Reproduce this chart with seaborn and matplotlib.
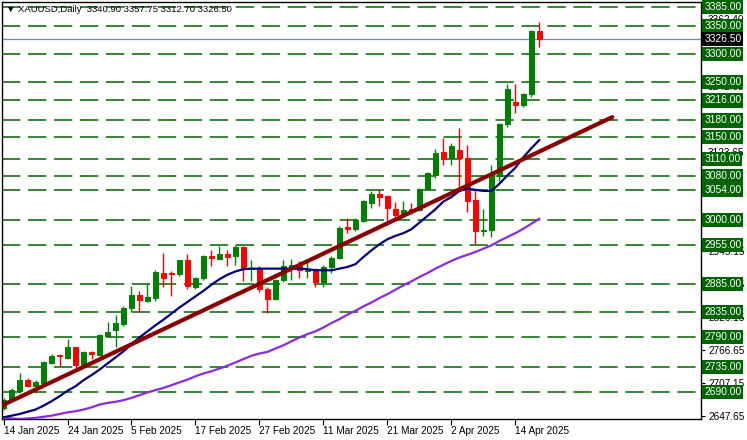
import numpy as np
import pandas as pd
import matplotlib
matplotlib.use("Agg")
import matplotlib.pyplot as plt
import matplotlib.transforms as mtransforms
import seaborn as sns

# ---------------- data ----------------
dates = pd.bdate_range("2025-01-14", "2025-04-17")

opens = [2661, 2677, 2692, 2713, 2701, 2706, 2743, 2757, 2752, 2771,
         2739, 2763, 2758, 2792, 2802, 2814, 2842, 2866, 2855, 2860,
         2906, 2906, 2904, 2928, 2880, 2897, 2935, 2930, 2939, 2936,
         2952, 2912, 2914, 2876, 2858, 2893, 2915, 2918, 2908, 2912,
         2888, 2916, 2933, 2988, 2984, 2999, 3032, 3047, 3044, 3021,
         3010, 3020, 3019, 3057, 3082, 3123, 3112, 3127, 3112, 3036,
         2980, 2982, 3080, 3174, 3214, 3208, 3228, 3340.90]
highs = [2680, 2697, 2724, 2716, 2713, 2746, 2760, 2759, 2786, 2772,
         2764, 2765, 2796, 2817, 2830, 2845, 2882, 2872, 2887, 2911,
         2942, 2909, 2929, 2939, 2898, 2937, 2947, 2954, 2947, 2956,
         2954, 2928, 2918, 2880, 2894, 2928, 2930, 2926, 2925, 2914,
         2920, 2936, 2990, 3005, 3004, 3037, 3052, 3056, 3045, 3033,
         3034, 3032, 3059, 3087, 3128, 3149, 3139, 3167, 3136, 3055,
         3021, 3099, 3176, 3245, 3245, 3230, 3343, 3357.75]
lows = [2658, 2674, 2689, 2699, 2688, 2704, 2741, 2738, 2751, 2731,
        2735, 2750, 2756, 2789, 2772, 2809, 2835, 2834, 2852, 2855,
        2879, 2864, 2900, 2877, 2877, 2892, 2917, 2928, 2917, 2920,
        2890, 2890, 2870, 2833, 2856, 2888, 2893, 2896, 2897, 2880,
        2880, 2905, 2930, 2977, 2980, 2997, 3022, 3025, 2999, 3005,
        3006, 3011, 3016, 3055, 3076, 3100, 3100, 3055, 3015, 2957,
        2971, 2970, 3071, 3169, 3193, 3205, 3222, 3312.70]
closes = [2677, 2695, 2713, 2701, 2708, 2745, 2755, 2755, 2771, 2740,
          2763, 2759, 2793, 2798, 2815, 2842, 2866, 2856, 2861, 2907,
          2897, 2904, 2928, 2881, 2896, 2935, 2932, 2939, 2934, 2952,
          2914, 2915, 2876, 2858, 2892, 2918, 2919, 2910, 2912, 2888,
          2916, 2933, 2987, 2985, 3000, 3034, 3047, 3042, 3022, 3010,
          3019, 3018, 3056, 3085, 3122, 3111, 3134, 3112, 3035, 2981,
          2982, 3081, 3173, 3236, 3208, 3227, 3341, 3326.50]

ma_fast = [2645, 2648, 2651, 2655, 2659, 2666, 2674, 2683, 2693, 2701,
           2712, 2721, 2731, 2742, 2753, 2764, 2777, 2789, 2800, 2811,
           2821, 2832, 2843, 2853, 2863, 2873, 2884, 2894, 2902, 2908,
           2912, 2913, 2913, 2913, 2913, 2913, 2913, 2913, 2912, 2910,
           2910, 2910, 2913, 2916, 2921, 2934, 2946, 2957, 2966, 2972,
           2977, 2984, 2996, 3008, 3020, 3034, 3042, 3053, 3057, 3055,
           3053, 3053, 3066, 3081, 3095, 3114, 3130, 3145]
ma_slow = [2645, 2643, 2642, 2643, 2644, 2646, 2648, 2651, 2654, 2656,
           2659, 2663, 2668, 2671, 2673, 2676, 2680, 2685, 2690, 2694,
           2698, 2703, 2708, 2713, 2719, 2724, 2728, 2733, 2738, 2744,
           2750, 2756, 2760, 2763, 2769, 2775, 2782, 2789, 2795, 2800,
           2807, 2815, 2822, 2830, 2837, 2845, 2852, 2860, 2867, 2875,
           2883, 2890, 2898, 2905, 2913, 2920, 2927, 2933, 2938, 2943,
           2949, 2955, 2963, 2970, 2977, 2985, 2994, 3003]

trend_x = [-0.4, 76.1]
trend_y = [2665, 3186]

levels = [3385, 3350, 3300, 3250, 3216, 3180, 3150, 3110, 3080, 3054,
          3000, 2955, 2885, 2835, 2790, 2735, 2690]
current_price = 3326.50
axis_prices = [2647.65, 2707.15, 2766.65, 2826.15, 2885.65, 2945.15, 3004.65,
               3064.15, 3123.65, 3183.15, 3242.65, 3302.15, 3362.40]
tick_dates = ["2025-01-14", "2025-01-24", "2025-02-05", "2025-02-17", "2025-02-27",
              "2025-03-11", "2025-03-21", "2025-04-02", "2025-04-14"]
title = "\u25bc XAUUSD,Daily  3340.90 3357.75 3312.70 3326.50"

# ---------------- style ----------------
sns.set_style("white")
plt.rcParams['font.family'] = ['Liberation Sans', 'DejaVu Sans']

W, H = 747, 440
fig = plt.figure(figsize=(W / 100, H / 100), dpi=100)
L, R, T, B = 2, 701, 2, 419
ax = fig.add_axes([L / W, 1 - B / H, (R - L) / W, (B - T) / H])

df = pd.DataFrame({"x": np.arange(len(dates)), "open": opens, "high": highs,
                   "low": lows, "close": closes, "ma_fast": ma_fast, "ma_slow": ma_slow})

GREEN = "#008000"
LEVEL_GREEN = "#006400"
RED = "#ff0000"

# horizontal levels
for lv in levels:
    ax.axhline(lv, color=LEVEL_GREEN, lw=1.1, ls=(0, (12, 5)), zorder=1)
ax.axhline(current_price, color="#778899", lw=0.9, zorder=1)

# candles
up = df["close"] >= df["open"]
colors = np.where(up, GREEN, RED)
ax.vlines(df["x"], df["low"], df["high"], colors=colors, lw=1.0, zorder=2)
body_lo = np.minimum(df["open"], df["close"])
body_h = np.abs(df["close"] - df["open"])
ax.bar(df["x"], body_h, bottom=body_lo, width=0.62, color=colors,
       edgecolor=colors, linewidth=0.7, zorder=2.1)

# moving averages
sns.lineplot(data=df, x="x", y="ma_slow", color="#8a2be2", lw=1.6, ax=ax, zorder=3)
sns.lineplot(data=df, x="x", y="ma_fast", color="#000080", lw=1.6, ax=ax, zorder=3)
# trend line
sns.lineplot(x=trend_x, y=trend_y, color="#8b0000", lw=3.0, ax=ax, zorder=4)

ax.set_xlim(-0.19, 87.2)
ax.set_ylim(2642, 3393.5)
ax.set_xlabel("")
ax.set_ylabel("")

# x ticks
idx = [int(np.where(dates == pd.Timestamp(d))[0][0]) for d in tick_dates]
ax.set_xticks(idx)
ax.set_xticklabels([f"{dates[i].day} {dates[i]:%b %Y}" for i in idx])
for lab in ax.get_xticklabels():
    lab.set_ha("left")
ax.tick_params(axis="x", direction="out", length=4, width=0.8, labelsize=7.2,
               pad=1, bottom=True, colors="black")

# y ticks on right
ax.yaxis.tick_right()
ax.set_yticks(axis_prices)
ax.set_yticklabels([f"{p:.2f}" for p in axis_prices])
ax.tick_params(axis="y", direction="out", length=3, width=0.8, labelsize=7.2,
               pad=2, right=True, left=False, colors="black")

for s in ax.spines.values():
    s.set_color("black")
    s.set_linewidth(1.0)
    s.set_visible(True)

# price level boxes
trans = mtransforms.blended_transform_factory(ax.transAxes, ax.transData)
for lv in levels:
    ax.text(1.0045, lv, f"{lv:.2f}", transform=trans, ha="left", va="center",
            color="white", fontsize=7.4, zorder=10, clip_on=False,
            bbox=dict(boxstyle="square,pad=0.2", fc=LEVEL_GREEN, ec="none"))
ax.text(1.0045, current_price, f"{current_price:.2f}", transform=trans, ha="left",
        va="center", color="white", fontsize=7.4, zorder=10, clip_on=False,
        bbox=dict(boxstyle="square,pad=0.2", fc="black", ec="none"))

ax.text(0.0057, 0.983, title, transform=ax.transAxes, ha="left", va="center",
        fontsize=6.8, color="black", zorder=11)

leg = ax.get_legend()
if leg is not None:
    leg.remove()

fig.savefig("out.png", dpi=100)
